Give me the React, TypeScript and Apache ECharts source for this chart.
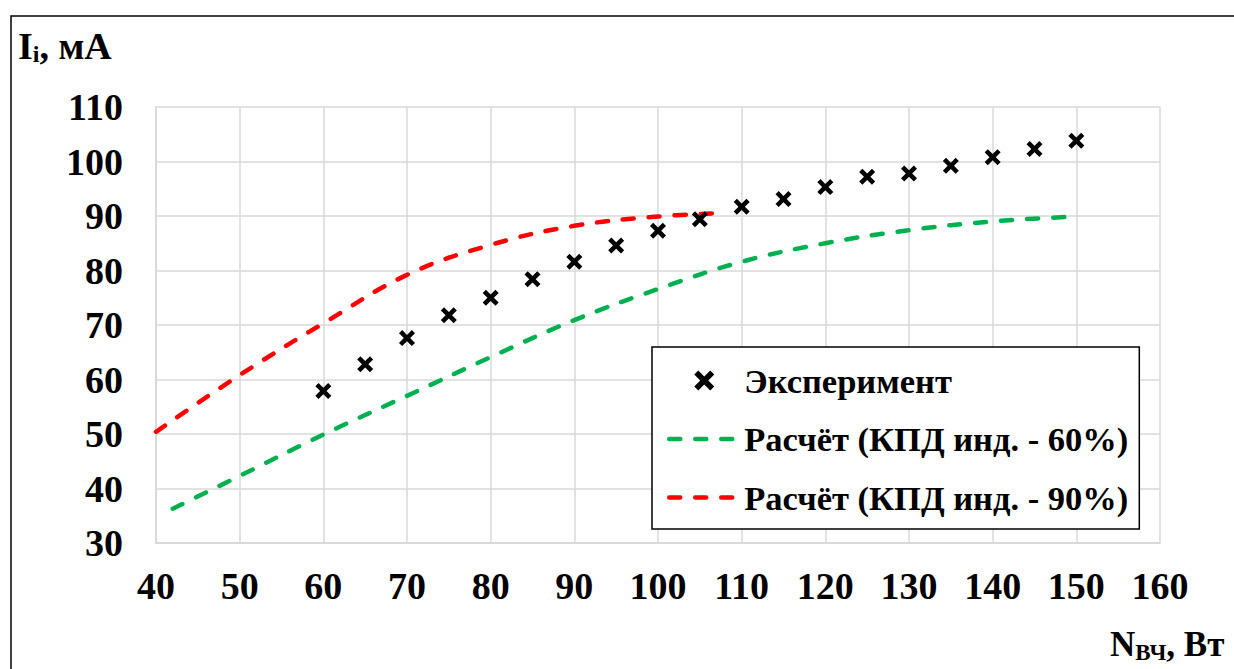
import React, { useEffect, useRef } from "react";
import * as echarts from "echarts";

// Experimental points
const expX = [60, 65, 70, 75, 80, 85, 90, 95, 100, 105, 110, 115, 120, 125, 130, 135, 140, 145, 150];
const expY = [57.9, 62.8, 67.6, 71.8, 75.0, 78.4, 81.6, 84.6, 87.3, 89.4, 91.7, 93.1, 95.3, 97.2, 97.8, 99.2, 100.8, 102.3, 103.8];

// Calculated curve, inductor efficiency 60%
const calc60X = [42, 50, 60, 70, 80, 90, 100, 110, 120, 130, 140, 150];
const calc60Y = [36.3, 42.3, 49.9, 57.0, 64.1, 70.9, 76.6, 81.6, 85.0, 87.4, 89.0, 89.9];

// Calculated curve, inductor efficiency 90%
const calc90X = [40, 50, 60, 70, 80, 90, 100, 107];
const calc90Y = [50.4, 60.8, 70.3, 79.2, 84.7, 88.2, 89.9, 90.5];

const FONT = "'Liberation Serif', 'Times New Roman', serif";
// Bold "x" marker as a filled outline
const CROSS =
  "path://M0,2L2,0L5,3L8,0L10,2L7,5L10,8L8,10L5,7L2,10L0,8L3,5Z";

const pairs = (xs: number[], ys: number[]) => xs.map((x, i) => [x, ys[i]]);

export default function App() {
  const ref = useRef<HTMLDivElement>(null);

  useEffect(() => {
    if (!ref.current) return;
    const chart = echarts.init(ref.current, undefined, { renderer: "svg" });
    const gridColor = "#d9d9d9";
    const dashed = (color: string) => ({
      color,
      width: 4.5,
      type: [11, 15] as number[],
      cap: "round" as const,
    });
    const labelStyle = {
      color: "#000",
      fontSize: 38,
      fontWeight: "bold" as const,
      fontFamily: FONT,
    };

    chart.setOption({
      animation: false,
      backgroundColor: "#ffffff",
      textStyle: { fontFamily: FONT },
      grid: { left: 156, right: 74, top: 107, bottom: 126, containLabel: false },
      xAxis: {
        type: "value",
        min: 40,
        max: 160,
        interval: 10,
        axisLine: { show: true, lineStyle: { color: gridColor, width: 2 } },
        axisTick: { show: false },
        splitLine: { show: true, lineStyle: { color: gridColor, width: 1.5 } },
        axisLabel: { margin: 24, ...labelStyle },
      },
      yAxis: {
        type: "value",
        min: 30,
        max: 110,
        interval: 10,
        axisLine: { show: true, lineStyle: { color: gridColor, width: 2 } },
        axisTick: { show: false },
        splitLine: { show: true, lineStyle: { color: gridColor, width: 1.5 } },
        axisLabel: { margin: 33, ...labelStyle },
      },
      legend: {
        orient: "vertical",
        left: 652,
        top: 347,
        padding: [16, 11, 14, 15],
        itemWidth: 70,
        itemHeight: 20,
        itemGap: 23.5,
        borderColor: "#000",
        borderWidth: 1.5,
        backgroundColor: "#fff",
        lineStyle: { width: 4.5 },
        textStyle: {
          color: "#000",
          fontSize: 34.5,
          fontWeight: "bold",
          fontFamily: FONT,
          lineHeight: 32,
        },
        data: [
          { name: "Эксперимент", icon: CROSS, itemStyle: { color: "#000", opacity: 1 } },
          { name: "Расчёт (КПД инд. - 60%)", itemStyle: { opacity: 0 } },
          { name: "Расчёт (КПД инд. - 90%)", itemStyle: { opacity: 0 } },
        ],
      },
      series: [
        {
          name: "Расчёт (КПД инд. - 60%)",
          type: "line",
          data: pairs(calc60X, calc60Y),
          smooth: 0.4,
          showSymbol: false,
          lineStyle: dashed("#00b050"),
          itemStyle: { color: "#00b050" },
          z: 2,
        },
        {
          name: "Расчёт (КПД инд. - 90%)",
          type: "line",
          data: pairs(calc90X, calc90Y),
          smooth: 0.4,
          showSymbol: false,
          lineStyle: dashed("#ff0000"),
          itemStyle: { color: "#ff0000" },
          z: 2,
        },
        {
          name: "Эксперимент",
          type: "scatter",
          data: pairs(expX, expY),
          symbol: CROSS,
          symbolSize: 16,
          itemStyle: { color: "#000", opacity: 1 },
          z: 3,
        },
      ],
      graphic: [
        {
          type: "rect",
          shape: { x: 11, y: 16, width: 1400, height: 900 },
          style: { fill: "none", stroke: "#000", lineWidth: 1.5 },
          silent: true,
        },
        {
          type: "text",
          left: 18,
          top: 27,
          style: {
            text: "{m|I}{s|i}{m|, мА}",
            fill: "#000",
            rich: {
              m: { fontSize: 38, fontWeight: "bold", fontFamily: FONT },
              s: { fontSize: 24, fontWeight: "bold", fontFamily: FONT, padding: [16, 0, 0, 0] },
            },
          },
        },
        {
          type: "text",
          left: 1110,
          top: 627,
          style: {
            text: "{m|N}{s|ВЧ}{m|, Вт}",
            fill: "#000",
            rich: {
              m: { fontSize: 35, fontWeight: "bold", fontFamily: FONT },
              s: { fontSize: 23, fontWeight: "bold", fontFamily: FONT, padding: [16, 0, 0, 0] },
            },
          },
        },
      ],
    });

    return () => chart.dispose();
  }, []);

  return (
    <div
      ref={ref}
      style={{ position: "fixed", left: 0, top: 0, width: 1234, height: 669, background: "#fff" }}
    />
  );
}
